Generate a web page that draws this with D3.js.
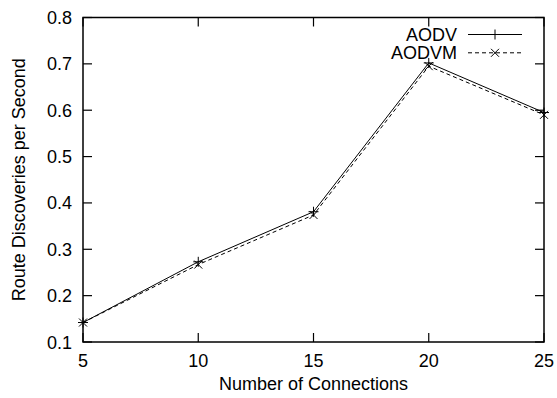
<!DOCTYPE html>
<html><head><meta charset="utf-8">
<script src="https://cdn.jsdelivr.net/npm/d3@7"></script>
<style>body{margin:0;background:#fff}text{font-family:"Liberation Sans",Arial,sans-serif;fill:#000}</style>
</head><body><svg id="c" width="557" height="398"></svg>
<script>
const connections = [5, 10, 15, 20, 25];
const aodv = [0.142, 0.273, 0.381, 0.702, 0.595];
const aodvm = [0.142, 0.267, 0.374, 0.695, 0.590];
const xTicks = [5, 10, 15, 20, 25];
const yTicks = [0.1, 0.2, 0.3, 0.4, 0.5, 0.6, 0.7, 0.8];
const seriesNames = ["AODV", "AODVM"];

const svg = d3.select("#c");
const L = 83, R = 544, T = 17.5, B = 342;
const x = d3.scaleLinear().domain([5, 25]).range([L, R]);
const y = d3.scaleLinear().domain([0.1, 0.8]).range([B, T]);
const fs = 18;

// ticks (mirrored, inward)
const tl = 9;
const g = svg.append("g").attr("stroke", "#000").attr("stroke-width", 1.2);
xTicks.forEach(v => {
  g.append("line").attr("x1", x(v)).attr("x2", x(v)).attr("y1", B).attr("y2", B - tl);
  g.append("line").attr("x1", x(v)).attr("x2", x(v)).attr("y1", T).attr("y2", T + tl);
});
yTicks.forEach(v => {
  g.append("line").attr("x1", L).attr("x2", L + tl).attr("y1", y(v)).attr("y2", y(v));
  g.append("line").attr("x1", R).attr("x2", R - tl).attr("y1", y(v)).attr("y2", y(v));
});
xTicks.forEach(v => svg.append("text").attr("x", x(v)).attr("y", 366.5).attr("text-anchor", "middle").attr("font-size", fs).text(v));
yTicks.forEach(v => svg.append("text").attr("x", 72).attr("y", y(v) + 6.5).attr("text-anchor", "end").attr("font-size", fs).text(v.toFixed(1)));

svg.append("text").attr("x", (L + R) / 2).attr("y", 390).attr("text-anchor", "middle").attr("font-size", fs).text("Number of Connections");
svg.append("text").attr("transform", `translate(25,${(T + B) / 2}) rotate(-90)`).attr("text-anchor", "middle").attr("font-size", fs).text("Route Discoveries per Second");

// data
const line = d3.line().x((d, i) => x(connections[i])).y(d => y(d));
const plus = (sel, cx, cy, s) => {
  sel.append("line").attr("x1", cx - s).attr("x2", cx + s).attr("y1", cy).attr("y2", cy);
  sel.append("line").attr("x1", cx).attr("x2", cx).attr("y1", cy - s).attr("y2", cy + s);
};
const cross = (sel, cx, cy, s) => {
  sel.append("line").attr("x1", cx - s).attr("x2", cx + s).attr("y1", cy - s).attr("y2", cy + s);
  sel.append("line").attr("x1", cx - s).attr("x2", cx + s).attr("y1", cy + s).attr("y2", cy - s);
};
const series = [
  { name: seriesNames[0], vals: aodv, dash: null, mark: plus, ms: 5 },
  { name: seriesNames[1], vals: aodvm, dash: "4,3", mark: cross, ms: 4 }
];
series.forEach((s, k) => {
  const sg = svg.append("g").attr("stroke", "#000").attr("stroke-width", 1).attr("fill", "none");
  sg.append("path").attr("d", line(s.vals)).attr("stroke-dasharray", s.dash);
  const mg = svg.append("g").attr("stroke", "#000").attr("stroke-width", 1);
  s.vals.forEach((v, i) => s.mark(mg, x(connections[i]), y(v), s.ms));
  // legend
  const ly = 34.5 + k * 18.3;
  svg.append("text").attr("x", 457).attr("y", ly + 6.5).attr("text-anchor", "end").attr("font-size", fs).text(s.name);
  sg.append("line").attr("x1", 468).attr("x2", 522).attr("y1", ly).attr("y2", ly).attr("stroke-dasharray", s.dash);
  s.mark(mg, 495, ly, s.ms);
});

// frame
svg.append("rect").attr("x", L).attr("y", T).attr("width", R - L).attr("height", B - T)
  .attr("fill", "none").attr("stroke", "#000").attr("stroke-width", 1.5);
</script></body></html>
